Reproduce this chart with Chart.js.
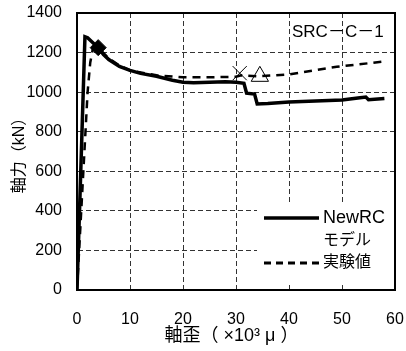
<!DOCTYPE html>
<html>
<head>
<meta charset="utf-8">
<script src="https://cdn.jsdelivr.net/npm/chart.js@4"></script>
<style>
  html, body { margin: 0; padding: 0; background: #fff; }
  #wrap { width: 406px; height: 351px; }
</style>
</head>
<body>
<div id="wrap"><canvas id="axialChart"></canvas></div>
<script>
// NewRC model curve (strain x10^3 mu, axial force kN)
const newrcX = [0, 0.5, 1, 1.5, 2, 3, 4, 5, 6, 8, 10, 12, 15, 18, 20, 22, 25, 28, 30, 31.5, 32, 33.5, 34, 36, 40, 45, 50, 53, 54.5, 55, 58];
const newrcY = [0, 420, 850, 1280, 1275, 1250, 1225, 1190, 1165, 1130, 1110, 1095, 1080, 1060, 1050, 1048, 1050, 1052, 1050, 1045, 995, 990, 940, 942, 950, 955, 960, 970, 975, 962, 968];

// test results
const expX = [0, 1, 2, 2.5, 3, 4, 6, 8, 10, 15, 20, 25, 30, 31, 34, 40, 49, 58];
const expY = [0, 500, 1000, 1150, 1220, 1225, 1170, 1135, 1110, 1085, 1075, 1075, 1078, 1085, 1080, 1090, 1128, 1155];

// markers: peak (diamond), cross, triangle
const markerX = [4, 30.7, 34.5];
const markerY = [1225, 1096, 1080];
const markerStyle = ["rectRot", "cross", "triangle"];

const xTicks = [0, 10, 20, 30, 40, 50, 60];
const yTicks = [0, 200, 400, 600, 800, 1000, 1200, 1400];

const legendItems = [["NewRC", "モデル"], ["実験値"]];
const specimen = "SRC－C－1";

const FONT = "'Liberation Sans', 'Noto Sans CJK JP', sans-serif";

function pts(xs, ys) {
    return xs.map(function (x, i) { return { x: x, y: ys[i] }; });
}

const markerSets = markerX.map(function (x, i) {
    return {
        label: "marker" + i,
        data: [{ x: x, y: markerY[i] }],
        showLine: false,
        pointStyle: markerStyle[i],
        pointRadius: i === 0 ? 8 : 10,
        borderColor: "#000",
        backgroundColor: i === 0 ? "#000" : "#fff",
        borderWidth: 1,
        rotation: i === 1 ? 45 : 0
    };
});

const overlay = {
    id: "overlay",
    afterDraw(chart) {
        const c = chart.ctx;
        const a = chart.chartArea;
        c.save();
        // legend box
        c.fillStyle = "#fff";
        c.fillRect(a.right - 138, a.bottom - 87, 138, 80);
        c.strokeStyle = "#000";
        c.lineWidth = 3.5;
        c.beginPath();
        c.moveTo(a.right - 131, a.bottom - 72);
        c.lineTo(a.right - 76, a.bottom - 72);
        c.stroke();
        c.lineWidth = 3;
        c.setLineDash([7, 5]);
        c.beginPath();
        c.moveTo(a.right - 131, a.bottom - 27);
        c.lineTo(a.right - 76, a.bottom - 27);
        c.stroke();
        c.setLineDash([]);
        c.fillStyle = "#000";
        c.textBaseline = "middle";
        c.textAlign = "left";
        c.font = "18px " + FONT;
        c.fillText(legendItems[0][0], a.right - 72, a.bottom - 72);
        c.font = "16px " + FONT;
        c.fillText(legendItems[0][1], a.right - 72, a.bottom - 49);
        c.fillText(legendItems[1][0], a.right - 72, a.bottom - 27);
        // specimen label
        c.font = "17px " + FONT;
        c.fillText(specimen, a.right - 103, a.top + 19);
        // frame
        c.lineWidth = 2;
        c.strokeRect(a.left, a.top, a.right - a.left, a.bottom - a.top);
        c.restore();
    }
};

new Chart(document.getElementById("axialChart").getContext("2d"), {
    type: "line",
    data: {
        datasets: [{
            label: "NewRCモデル",
            data: pts(newrcX, newrcY),
            borderColor: "#000",
            borderWidth: 3.5,
            pointRadius: 0,
            tension: 0
        }, {
            label: "実験値",
            data: pts(expX, expY),
            borderColor: "#000",
            borderWidth: 2.5,
            borderDash: [8, 6],
            pointRadius: 0,
            tension: 0
        }].concat(markerSets)
    },
    options: {
        responsive: true,
        maintainAspectRatio: false,
        animation: false,
        layout: { padding: { left: 0, right: 10, top: 13, bottom: 0 } },
        plugins: {
            legend: { display: false },
            tooltip: { enabled: false }
        },
        scales: {
            x: {
                type: "linear",
                min: 0,
                max: 60,
                afterBuildTicks: function (s) { s.ticks = xTicks.map(function (v) { return { value: v }; }); },
                afterFit: function (s) { s.height = 61; s.paddingLeft = 0; s.paddingRight = 0; },
                grid: { color: "#333", lineWidth: 1, drawTicks: false },
                border: { display: true, color: "#000", width: 2, dash: [5, 3] },
                ticks: {
                    color: "#000", padding: 20, font: { family: FONT, size: 16 },
                    callback: function (v) { return String(v); }
                },
                title: {
                    display: true,
                    text: "軸歪（ ×10³ μ ）　",
                    color: "#000",
                    padding: { top: 0, bottom: 4 },
                    font: { family: FONT, size: 18 }
                }
            },
            y: {
                min: 0,
                max: 1400,
                afterBuildTicks: function (s) { s.ticks = yTicks.map(function (v) { return { value: v }; }); },
                afterFit: function (s) { s.width = 77; s.paddingTop = 0; s.paddingBottom = 0; },
                grid: { color: "#333", lineWidth: 1, drawTicks: false },
                border: { display: true, color: "#000", width: 2, dash: [5, 3] },
                ticks: {
                    color: "#000", padding: 15, font: { family: FONT, size: 16 },
                    callback: function (v) { return String(v); }
                },
                title: {
                    display: true,
                    text: "軸力（kN）",
                    color: "#000",
                    padding: { top: 10, bottom: 0 },
                    font: { family: FONT, size: 16 }
                }
            }
        }
    },
    plugins: [overlay]
});
</script>
</body>
</html>
